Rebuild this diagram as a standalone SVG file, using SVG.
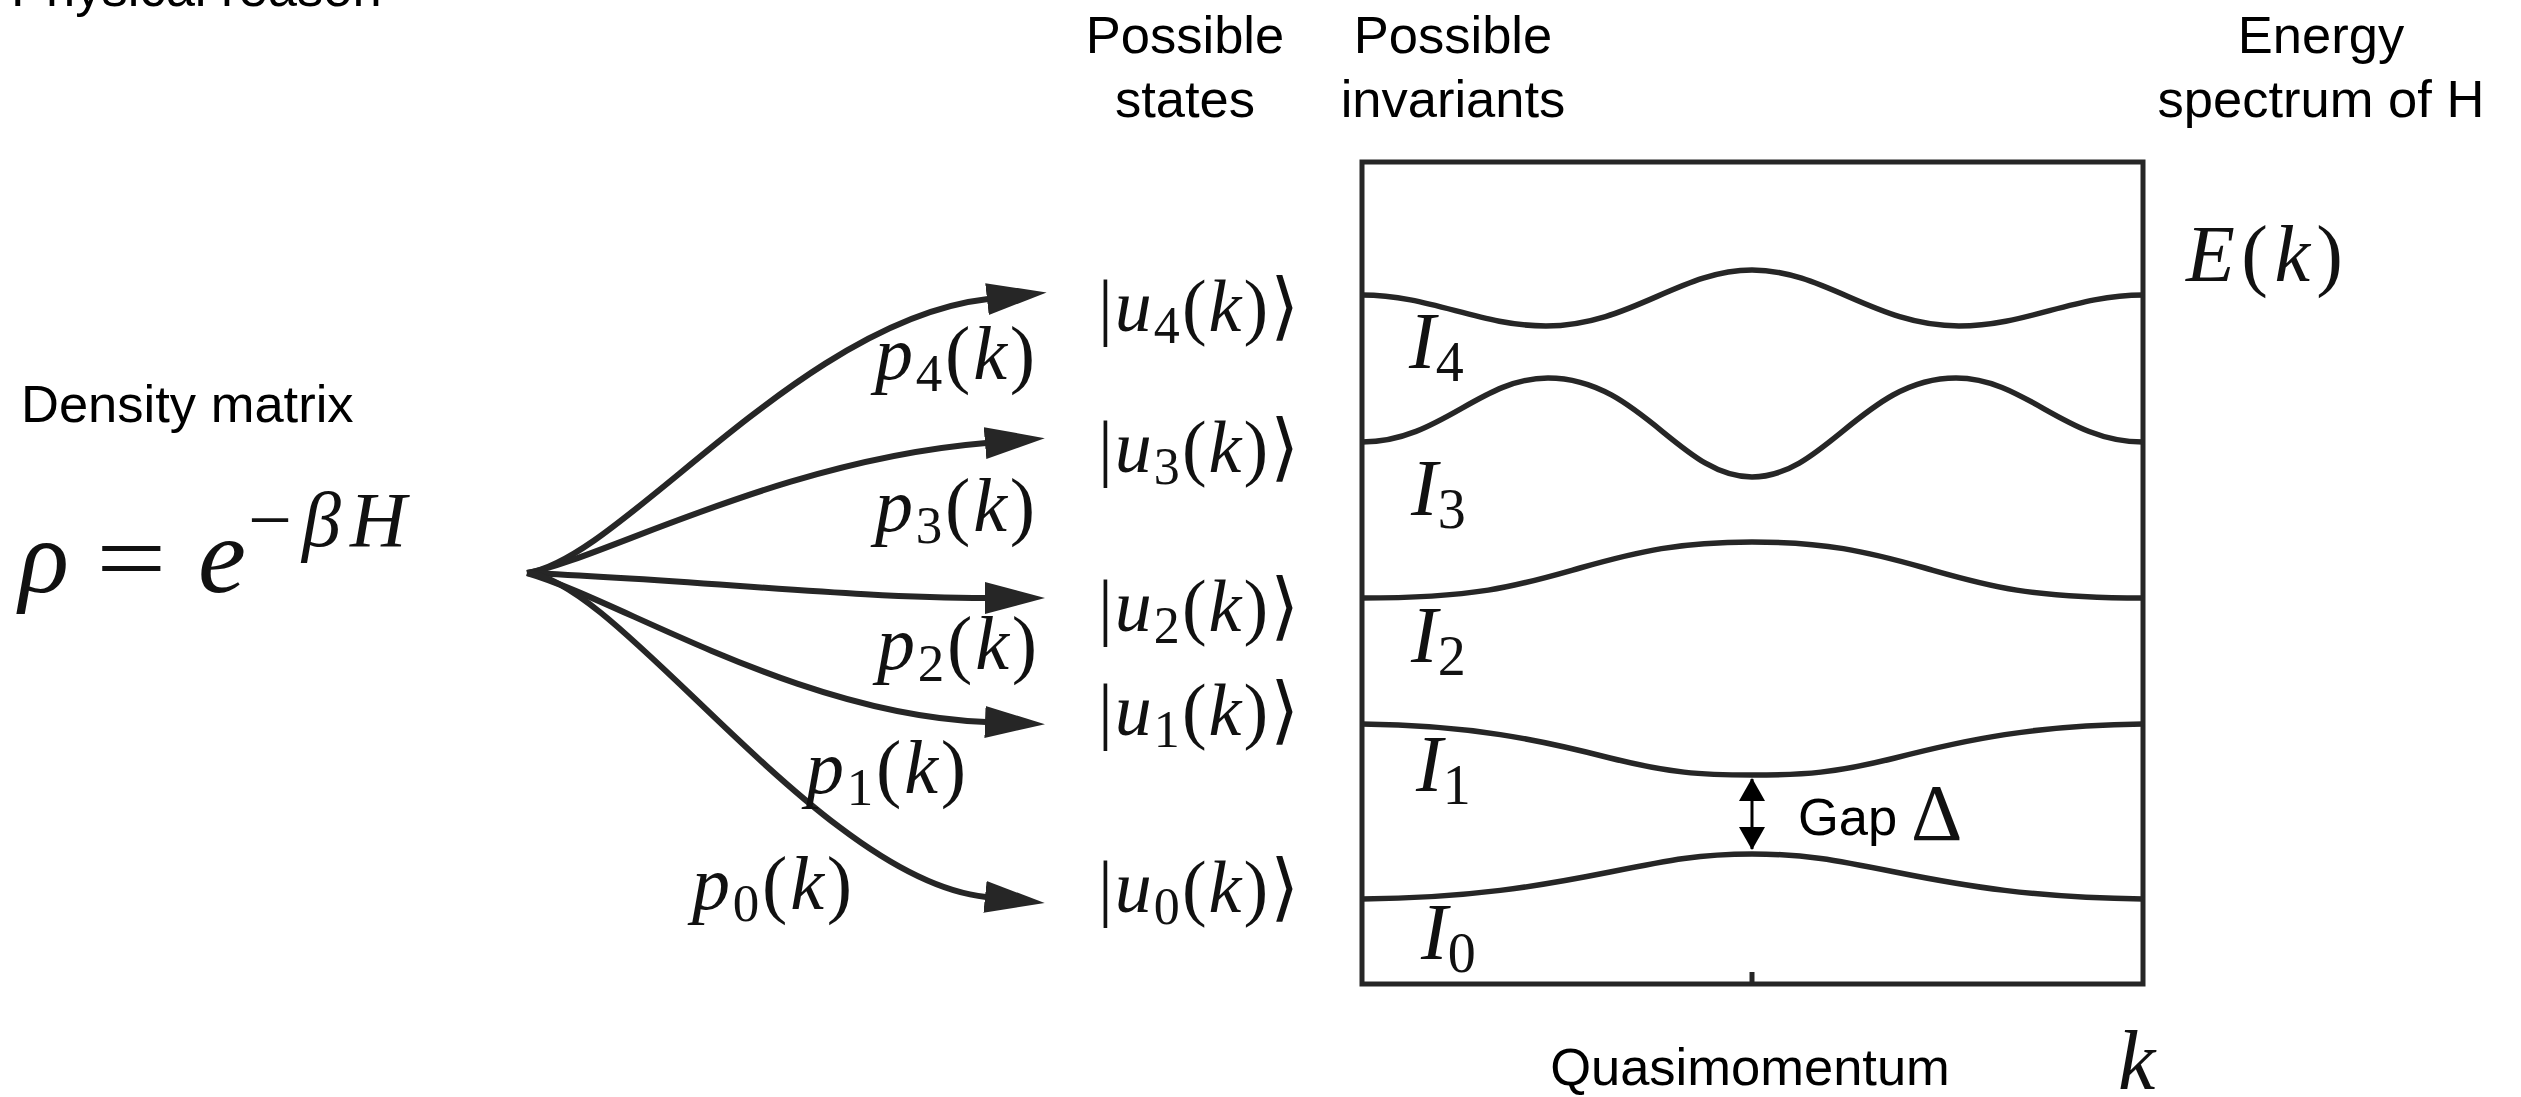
<svg xmlns="http://www.w3.org/2000/svg" width="2521" height="1097" viewBox="0 0 2521 1097">
<style>
.sans{font-family:"Liberation Sans",Arial,Helvetica,sans-serif;font-size:52.5px;fill:#000}
.mid{text-anchor:middle}
.math{font-family:"Liberation Serif","Times New Roman",serif;fill:#111}
.it{font-style:italic}
.ang{font-family:"DejaVu Serif","DejaVu Sans",serif;font-style:normal}
.conn{fill:none;stroke:#262626;stroke-width:6;marker-end:url(#ah)}
.band{fill:none;stroke:#262626;stroke-width:5.5}
.frame{fill:none;stroke:#262626;stroke-width:5}
</style>
<defs>
<marker id="ah" markerUnits="userSpaceOnUse" markerWidth="62" markerHeight="32" viewBox="0 0 62 32" refX="1" refY="16" orient="auto">
<path d="M0,0 L60,16 L0,32 Z" fill="#262626"/>
</marker>
<marker id="gh" markerUnits="userSpaceOnUse" markerWidth="24" markerHeight="26" viewBox="0 0 24 26" refX="22" refY="13" orient="auto-start-reverse">
<path d="M0,0 L23,13 L0,26 Z" fill="#000"/>
</marker>
</defs>
<rect width="2521" height="1097" fill="#fff"/>

<g id="title">
<text class="sans" x="11" y="6">Physical reason</text>
</g>

<g id="density">
<text class="sans" x="21" y="422">Density matrix</text>
<text class="math it" font-size="104" x="19" y="592">ρ</text>
<text class="math" font-size="100" transform="translate(96,592) scale(1.25,1)">=</text>
<text class="math it" font-size="108" x="198" y="592">e</text>
<text class="math" font-size="78" y="546"><tspan x="248">−</tspan><tspan x="302" class="it">β</tspan><tspan x="350" class="it">H</tspan></text>
</g>

<g id="headers">
<text class="sans mid" x="1185" y="53">Possible</text>
<text class="sans mid" x="1185" y="117">states</text>
<text class="sans mid" x="1453" y="53">Possible</text>
<text class="sans mid" x="1453" y="117">invariants</text>
<text class="sans mid" x="2321" y="53">Energy</text>
<text class="sans mid" x="2321" y="117">spectrum of H</text>
</g>

<g id="connectors">
<path class="conn" d="M527,573 C620,560 800,320 988,299"/>
<path class="conn" d="M527,573 C600,560 780,460 986,443"/>
<path class="conn" d="M527,573 C700,580 850,598 986,598"/>
<path class="conn" d="M527,573 C620,600 800,715 986,722"/>
<path class="conn" d="M527,573 C620,580 820,880 986,897"/>
<g id="prob-labels" class="math" font-size="76">
<text x="875" y="379" textLength="160"><tspan class="it">p</tspan><tspan font-size="53" dy="12">4</tspan><tspan dy="-12">(</tspan><tspan class="it">k</tspan>)</text>
<text x="875" y="531" textLength="160"><tspan class="it">p</tspan><tspan font-size="53" dy="12">3</tspan><tspan dy="-12">(</tspan><tspan class="it">k</tspan>)</text>
<text x="877" y="669" textLength="160"><tspan class="it">p</tspan><tspan font-size="53" dy="12">2</tspan><tspan dy="-12">(</tspan><tspan class="it">k</tspan>)</text>
<text x="806" y="793" textLength="160"><tspan class="it">p</tspan><tspan font-size="53" dy="12">1</tspan><tspan dy="-12">(</tspan><tspan class="it">k</tspan>)</text>
<text x="692" y="909" textLength="160"><tspan class="it">p</tspan><tspan font-size="53" dy="12">0</tspan><tspan dy="-12">(</tspan><tspan class="it">k</tspan>)</text>
</g>
</g>

<g id="states" class="math" font-size="74">
<text id="u4" x="1098" y="331" textLength="201">|<tspan class="it">u</tspan><tspan font-size="52" dy="12">4</tspan><tspan dy="-12">(</tspan><tspan class="it">k</tspan>)<tspan class="ang">⟩</tspan></text>
<text id="u3" x="1098" y="472" textLength="201">|<tspan class="it">u</tspan><tspan font-size="52" dy="12">3</tspan><tspan dy="-12">(</tspan><tspan class="it">k</tspan>)<tspan class="ang">⟩</tspan></text>
<text id="u2" x="1098" y="631" textLength="201">|<tspan class="it">u</tspan><tspan font-size="52" dy="12">2</tspan><tspan dy="-12">(</tspan><tspan class="it">k</tspan>)<tspan class="ang">⟩</tspan></text>
<text id="u1" x="1098" y="735" textLength="201">|<tspan class="it">u</tspan><tspan font-size="52" dy="12">1</tspan><tspan dy="-12">(</tspan><tspan class="it">k</tspan>)<tspan class="ang">⟩</tspan></text>
<text id="u0" x="1098" y="912" textLength="201">|<tspan class="it">u</tspan><tspan font-size="52" dy="12">0</tspan><tspan dy="-12">(</tspan><tspan class="it">k</tspan>)<tspan class="ang">⟩</tspan></text>
</g>

<g id="spectrum">
<rect class="frame" x="1362" y="162" width="781" height="822"/>
<line x1="1752" y1="972" x2="1752" y2="984" stroke="#262626" stroke-width="5"/>
<path class="band" d="M1362,295 C1430,295 1480,326 1546,326 C1630,326 1680,270 1752,270 C1825,270 1875,326 1959,326 C2025,326 2075,295 2143,295"/>
<path class="band" d="M1362,442 C1440,442 1480,378 1548,378 C1640,378 1680,477 1752,477 C1825,477 1865,378 1956,378 C2025,378 2065,442 2143,442"/>
<path class="band" d="M1362,598 C1480,598 1520,585 1580,568 C1640,551 1680,542 1752,542 C1825,542 1865,551 1925,568 C1985,585 2025,598 2143,598"/>
<path class="band" d="M1362,724 C1470,725 1540,740 1610,758 C1670,773 1700,775 1752,775 C1805,775 1835,773 1895,758 C1965,740 2035,725 2143,724"/>
<path class="band" d="M1362,899 C1470,898 1540,886 1610,872 C1670,860 1700,854 1752,854 C1805,854 1835,860 1895,872 C1965,886 2035,898 2143,899"/>
<g class="math" font-size="80">
<text x="1409" y="368"><tspan class="it">I</tspan><tspan font-size="56" dy="13">4</tspan></text>
<text x="1411" y="515"><tspan class="it">I</tspan><tspan font-size="56" dy="13">3</tspan></text>
<text x="1411" y="662"><tspan class="it">I</tspan><tspan font-size="56" dy="13">2</tspan></text>
<text x="1416" y="791"><tspan class="it">I</tspan><tspan font-size="56" dy="13">1</tspan></text>
<text x="1421" y="959"><tspan class="it">I</tspan><tspan font-size="56" dy="13">0</tspan></text>
</g>
<text class="math" font-size="80" x="2186" y="281" textLength="157"><tspan class="it">E</tspan>(<tspan class="it">k</tspan>)</text>
<line x1="1752" y1="779" x2="1752" y2="849" stroke="#000" stroke-width="3" marker-start="url(#gh)" marker-end="url(#gh)"/>
<text class="sans" x="1798" y="835">Gap</text>
<text class="math" font-size="80" x="1911" y="840">Δ</text>
<text class="sans mid" x="1750" y="1085">Quasimomentum</text>
<text class="math it" font-size="84" x="2118" y="1089">k</text>
</g>
</svg>
